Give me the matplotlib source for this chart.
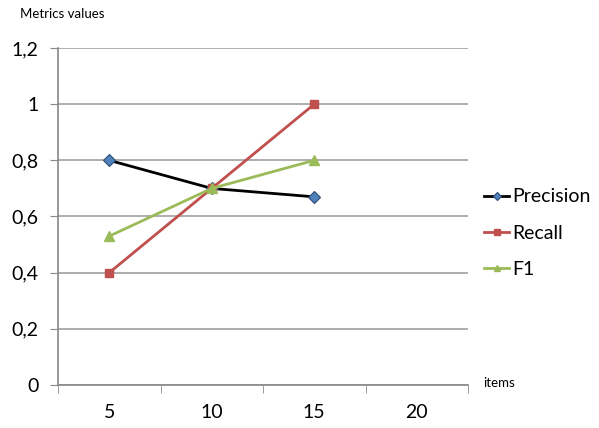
import numpy as np
import matplotlib.pyplot as plt
from matplotlib.ticker import FuncFormatter

# Dane
items = ['5', '10', '15', '20']
precision = [0.8, 0.7, 0.67]
recall = [0.4, 0.7, 1.0]
f1 = [0.53, 0.7, 0.8]
yticks = [0, 0.2, 0.4, 0.6, 0.8, 1.0, 1.2]

plt.rcParams['font.family'] = ['Lato', 'DejaVu Sans']

fig = plt.figure(figsize=(5.99, 4.28), dpi=100)
ax = fig.add_axes([58/599, 1 - 385/428, (468 - 58)/599, (385 - 48)/428])

x = np.arange(len(precision))
ax.plot(x, precision, color='black', lw=2, marker='D', ms=6,
        mfc='#4f81bd', mec='#2c4d75', mew=0.8, label='Precision')
ax.plot(x, recall, color='#c0504d', lw=2, marker='s', ms=5.5,
        mfc='#c0504d', mec='#c0504d', label='Recall')
ax.plot(x, f1, color='#9bbb59', lw=2, marker='^', ms=6.5,
        mfc='#9bbb59', mec='#9bbb59', label='F1')

ax.set_xlim(-0.5, len(items) - 0.5)
ax.set_ylim(0, 1.2)
ax.set_yticks(yticks)
ax.yaxis.set_major_formatter(FuncFormatter(lambda v, p: ('%g' % round(v, 1)).replace('.', ',')))
ax.set_xticks(np.arange(len(items)))
ax.set_xticklabels(items)
ax.set_xticks(np.arange(len(items) + 1) - 0.5, minor=True)
ax.tick_params(axis='x', which='major', length=0, pad=14, labelsize=14)
ax.tick_params(axis='x', which='minor', length=6, color='#888888', direction='out')
ax.tick_params(axis='y', length=6, color='#888888', labelsize=14, pad=8)

ax.grid(axis='y', color='#a0a0a0', lw=1.2)
ax.set_axisbelow(True)
for s in ['top', 'right']:
    ax.spines[s].set_visible(False)
ax.spines['left'].set_color('#888888')
ax.spines['bottom'].set_color('#888888')
ax.spines['left'].set_linewidth(1.2)
ax.spines['bottom'].set_linewidth(1.2)

fig.text(20/599, 1 - 14/428, 'Metrics values', fontsize=9.5, va='center', ha='left')
fig.text(483/599, 1 - 383/428, 'items', fontsize=9.5, va='center', ha='left')

ax.legend(loc='center left', bbox_to_anchor=(1.02, 0.45), frameon=False,
          fontsize=14, handlelength=1.3, handletextpad=0.15, labelspacing=1.0,
          markerscale=0.7, borderaxespad=0)

plt.savefig('out.png', dpi=100)
